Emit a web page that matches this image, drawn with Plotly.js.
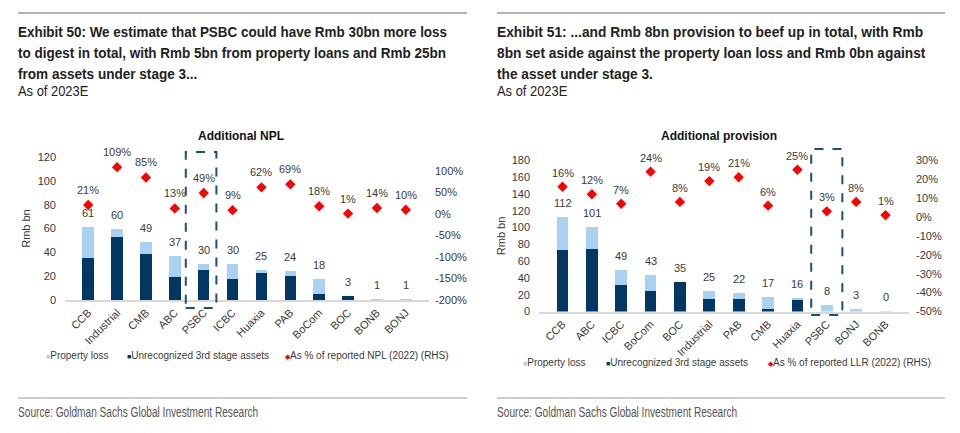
<!DOCTYPE html>
<html>
<head>
<meta charset="utf-8">
<script src="https://cdn.plot.ly/plotly-3.0.1.min.js"></script>
<style>
  html, body { margin: 0; padding: 0; background: #ffffff; }
  #wrap { position: relative; width: 960px; height: 433px; overflow: hidden; }
  #chart { position: absolute; left: 0; top: 0; width: 960px; height: 433px; }
  .t { position: absolute; white-space: nowrap; line-height: 20px; height: 20px;
       font-family: 'Liberation Sans', Arial, sans-serif; transform-origin: 0 50%; color: #222; }
  .h { font-size: 15px; font-weight: bold; }
  .s { font-size: 14px; }
  .src { font-size: 14px; color: #555; }
</style>
</head>
<body>
<div id="wrap">
  <div id="chart"></div>
  <div class="t h" style="left:18px;top:22px" data-w="429">Exhibit 50: We estimate that PSBC could have Rmb 30bn more loss</div>
  <div class="t h" style="left:18px;top:43px" data-w="428">to digest in total, with Rmb 5bn from property loans and Rmb 25bn</div>
  <div class="t h" style="left:18px;top:64px" data-w="179">from assets under stage 3...</div>
  <div class="t s" style="left:18px;top:81px" data-w="70">As of 2023E</div>
  <div class="t h" style="left:497px;top:22px" data-w="426">Exhibit 51: ...and Rmb 8bn provision to beef up in total, with Rmb</div>
  <div class="t h" style="left:497px;top:43px" data-w="428">8bn set aside against the property loan loss and Rmb 0bn against</div>
  <div class="t h" style="left:497px;top:64px" data-w="156">the asset under stage 3.</div>
  <div class="t s" style="left:497px;top:81px" data-w="70">As of 2023E</div>
  <div class="t src" style="left:18px;top:402px" data-w="240">Source: Goldman Sachs Global Investment Research</div>
  <div class="t src" style="left:497px;top:402px" data-w="240">Source: Goldman Sachs Global Investment Research</div>
</div>
<script>
// ---------- Data: Exhibit 50 (Additional NPL) ----------
const nplCategories = ['CCB','Industrial','CMB','ABC','PSBC','ICBC','Huaxia','PAB','BoCom','BOC','BONB','BONJ'];
const nplStage3 = [35, 53, 39, 19, 25, 18, 23, 20, 5, 3, 0.3, 0];
const nplProperty = [26, 7, 10, 18, 5, 12, 2, 4, 13, 0, 0.8, 0.6];
const nplTotalLabels = ['61','60','49','37','30','30','25','24','18','3','1','1'];
const nplPct = [21, 109, 85, 13, 49, 9, 62, 69, 18, 1, 14, 10];
const nplLeftTicks = [0, 20, 40, 60, 80, 100, 120];
const nplRightTicks = [-200, -150, -100, -50, 0, 50, 100];

// ---------- Data: Exhibit 51 (Additional provision) ----------
const provCategories = ['CCB','ABC','ICBC','BoCom','BOC','Industrial','PAB','CMB','Huaxia','PSBC','BONJ','BONB'];
const provStage3 = [73, 75, 32, 25, 35, 15, 15, 3, 14, 0, 0, 0];
const provProperty = [39, 26, 17, 18, 0, 10, 7, 14, 2, 8, 3, 0.4];
const provTotalLabels = ['112','101','49','43','35','25','22','17','16','8','3','0'];
const provPct = [16, 12, 7, 24, 8, 19, 21, 6, 25, 3, 8, 1];
const provLeftTicks = [0, 20, 40, 60, 80, 100, 120, 140, 160, 180];
const provRightTicks = [-50, -40, -30, -20, -10, 0, 10, 20, 30];

// fit header/source lines to the reference widths
document.querySelectorAll('.t').forEach(el => {
  const w = el.scrollWidth;
  const target = parseFloat(el.getAttribute('data-w'));
  if (w > 0) el.style.transform = 'scaleX(' + (target / w) + ')';
});

// ---------- Styles ----------
const W = 960, H = 433;
const px = x => x / W;
const py = y => 1 - y / H;
const LIGHT = '#A9D1F1';
const DARK = '#003763';
const RED = '#FF0000';
const TXT = '#3a3a3a';
const FONT = 'Liberation Sans, Arial, sans-serif';

function tickText(vals, suffix) { return vals.map(v => v + suffix); }

const traces = [
  { type: 'bar', x: nplCategories, y: nplStage3, name: 'Unrecognized 3rd stage assets',
    marker: { color: DARK }, xaxis: 'x', yaxis: 'y', hoverinfo: 'skip' },
  { type: 'bar', x: nplCategories, y: nplProperty, name: 'Property loss',
    marker: { color: LIGHT }, xaxis: 'x', yaxis: 'y', hoverinfo: 'skip' },
  { type: 'scatter', mode: 'markers', x: nplCategories, y: nplPct, name: 'As % of reported NPL (2022) (RHS)',
    marker: { color: RED, symbol: 'diamond', size: 8 }, xaxis: 'x', yaxis: 'y2', cliponaxis: false },
  { type: 'bar', x: provCategories, y: provStage3, name: 'Unrecognized 3rd stage assets',
    marker: { color: DARK }, xaxis: 'x2', yaxis: 'y3', hoverinfo: 'skip' },
  { type: 'bar', x: provCategories, y: provProperty, name: 'Property loss',
    marker: { color: LIGHT }, xaxis: 'x2', yaxis: 'y3', hoverinfo: 'skip' },
  { type: 'scatter', mode: 'markers', x: provCategories, y: provPct, name: 'As % of reported LLR (2022) (RHS)',
    marker: { color: RED, symbol: 'diamond', size: 8 }, xaxis: 'x2', yaxis: 'y4', cliponaxis: false }
];

const annotations = [];
function labelSet(cats, tops, labels, xref, yref, shift) {
  cats.forEach((c, i) => {
    annotations.push({ x: c, y: tops[i], xref: xref, yref: yref, text: labels[i], showarrow: false,
      yanchor: 'middle', yshift: shift, font: { family: FONT, size: 11, color: TXT } });
  });
}
labelSet(nplCategories, nplStage3.map((v, i) => v + nplProperty[i]), nplTotalLabels, 'x', 'y', 14);
labelSet(nplCategories, nplPct, nplPct.map(v => v + '%'), 'x', 'y2', 15);
labelSet(provCategories, provStage3.map((v, i) => v + provProperty[i]), provTotalLabels, 'x2', 'y3', 14);
labelSet(provCategories, provPct, provPct.map(v => v + '%'), 'x2', 'y4', 14);

function paperText(x, y, text, font) {
  annotations.push({ x: px(x), y: py(y), xref: 'paper', yref: 'paper', text: text,
    showarrow: false, xanchor: 'left', yanchor: 'middle', align: 'left', font: font });
}
annotations.push({ x: px(241), y: py(136), xref: 'paper', yref: 'paper', text: '<b>Additional NPL</b>',
  showarrow: false, xanchor: 'center', yanchor: 'middle', font: { family: FONT, size: 12, color: '#111' } });
annotations.push({ x: px(719), y: py(136), xref: 'paper', yref: 'paper', text: '<b>Additional provision</b>',
  showarrow: false, xanchor: 'center', yanchor: 'middle', font: { family: FONT, size: 12, color: '#111' } });

// legends
const legFont = { family: FONT, size: 10, color: TXT };
function sq(color) { return '<span style="color:' + color + ';font-size:7px">■</span>'; }
function dm(color) { return '<span style="color:' + color + ';font-size:7px">◆</span>'; }
paperText(44, 355, sq(LIGHT) + 'Property loss', legFont);
paperText(125, 355, sq(DARK) + 'Unrecognized 3rd stage assets', legFont);
paperText(283, 355, dm(RED) + 'As % of reported NPL (2022) (RHS)', legFont);
paperText(521, 362, sq(LIGHT) + 'Property loss', legFont);
paperText(604, 362, sq(DARK) + 'Unrecognized 3rd stage assets', legFont);
paperText(766, 362, dm(RED) + 'As % of reported LLR (2022) (RHS)', legFont);

const shapes = [
  { type: 'line', xref: 'paper', yref: 'paper', x0: px(18), x1: px(467), y0: py(13), y1: py(13), line: { color: '#9a9a9a', width: 1.5 } },
  { type: 'line', xref: 'paper', yref: 'paper', x0: px(497), x1: px(945), y0: py(13), y1: py(13), line: { color: '#9a9a9a', width: 1.5 } },
  { type: 'line', xref: 'paper', yref: 'paper', x0: px(18), x1: px(467), y0: py(398), y1: py(398), line: { color: '#9a9a9a', width: 1.2 } },
  { type: 'line', xref: 'paper', yref: 'paper', x0: px(497), x1: px(945), y0: py(398), y1: py(398), line: { color: '#9a9a9a', width: 1.2 } }
];
const iL = nplCategories.indexOf('PSBC');
shapes.push({ type: 'rect', xref: 'x', yref: 'paper', x0: iL - 0.62, x1: iL + 0.44, y0: py(308), y1: py(152),
  line: { color: '#1F4E79', width: 2, dash: 'dash' }, fillcolor: 'rgba(0,0,0,0)' });
const iR = provCategories.indexOf('PSBC');
shapes.push({ type: 'rect', xref: 'x2', yref: 'paper', x0: iR - 0.53, x1: iR + 0.53, y0: py(315), y1: py(149),
  line: { color: '#1F4E79', width: 2, dash: 'dash' }, fillcolor: 'rgba(0,0,0,0)' });

const tickFont = { family: FONT, size: 11, color: TXT };
const xCommon = { type: 'category', tickangle: -45, tickfont: tickFont, showgrid: false, zeroline: false,
  showline: true, linecolor: '#d9d9d9', linewidth: 2, ticks: '', fixedrange: true };
const yCommon = { showgrid: false, zeroline: false, showline: false, tickfont: tickFont, ticks: '', fixedrange: true };

const layout = {
  width: W, height: H,
  margin: { l: 0, r: 0, t: 0, b: 0 },
  paper_bgcolor: 'rgba(0,0,0,0)', plot_bgcolor: 'rgba(0,0,0,0)',
  barmode: 'stack', bargap: 0.6,
  showlegend: false,
  font: { family: FONT, color: TXT },
  xaxis: Object.assign({}, xCommon, { domain: [px(65), px(429)], anchor: 'y' }),
  yaxis: Object.assign({}, yCommon, { domain: [py(300), py(157)], range: [0, 120], tickvals: nplLeftTicks,
    ticklabelstandoff: 8, anchor: 'x',
    title: { text: 'Rmb bn', font: { family: FONT, size: 11, color: TXT }, standoff: 4 } }),
  yaxis2: Object.assign({}, yCommon, { domain: [py(300), py(157)], range: [-200, 132.6], overlaying: 'y', side: 'right',
    anchor: 'x', tickvals: nplRightTicks, ticktext: tickText(nplRightTicks, '%'), ticklabelstandoff: 5 }),
  xaxis2: Object.assign({}, xCommon, { domain: [px(539), px(909)], anchor: 'y3' }),
  yaxis3: Object.assign({}, yCommon, { domain: [py(311.5), py(160.3)], range: [0, 180], tickvals: provLeftTicks,
    ticklabelstandoff: 8, anchor: 'x2',
    title: { text: 'Rmb bn', font: { family: FONT, size: 11, color: TXT }, standoff: 3 } }),
  yaxis4: Object.assign({}, yCommon, { domain: [py(311.5), py(160.3)], range: [-50, 30], overlaying: 'y3', side: 'right',
    anchor: 'x2', tickvals: provRightTicks, ticktext: tickText(provRightTicks, '%'), ticklabelstandoff: 6 }),
  annotations: annotations,
  shapes: shapes
};

Plotly.newPlot('chart', traces, layout, { staticPlot: true, displayModeBar: false });
</script>
</body>
</html>
